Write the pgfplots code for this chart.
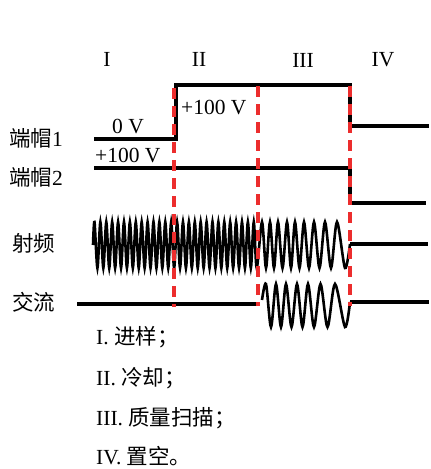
\documentclass[border=0pt]{standalone}
\usepackage{pgfplots}
\pgfplotsset{compat=1.18}
\usepackage{fontspec}
\setmainfont{Liberation Serif}
\newfontfamily\cjk{Noto Sans CJK SC}
\definecolor{dashred}{RGB}{236,45,45}
\newcommand\fs{\fontsize{21.5}{25}\selectfont}
\begin{document}
\begin{tikzpicture}
\begin{axis}[hide axis, scale only axis, width=429pt, height=469pt,
  xmin=0, xmax=429, ymin=0, ymax=469, y dir=reverse, clip=false]
\path (rel axis cs:0,0) rectangle (rel axis cs:1,1);
% end cap 1
\addplot[black, line width=3.1pt, line join=miter] coordinates {(94,139) (176,139) (176,85) (350,85) (350,126) (429,126)};
% end cap 2
\addplot[black, line width=3.1pt, line join=miter] coordinates {(94,168) (350,168) (350,203) (426,203)};
% RF
\addplot[black, line width=2.6pt, smooth, tension=0.5] coordinates {
(93,245)
(94.48,222) (97.43,268) (100.38,222) (103.33,268) (106.28,222) (109.23,268)
(112.18,222) (115.13,268) (118.08,222) (121.03,268) (123.98,222) (126.93,268)
(129.88,222) (132.83,268) (135.78,222) (138.73,268) (141.68,222) (144.63,268)
(147.58,222) (150.53,268) (153.48,222) (156.43,268) (159.38,222) (162.33,268)
(165.28,222) (168.23,268) (171.18,222) (174.13,268) (177.08,222) (180.03,268)
(182.98,222) (185.93,268) (188.88,222) (191.83,268) (194.78,222) (197.73,268)
(200.68,222) (203.63,268) (206.58,222) (209.53,268) (212.48,222) (215.43,268)
(218.38,222) (221.33,268) (224.28,222) (227.23,268) (230.18,222) (233.13,268)
(236.08,222) (239.03,268) (241.98,222) (244.93,268) (247.88,222) (250.83,268)
(253.78,222) (256.73,268)
(262,222) (266,268) (270,222) (274,268) (278,222) (282.5,268) (287,222) (291,268)
(295,222) (299.5,268) (304,222) (309,268) (314,222) (319.5,268) (325,222) (331,268)
(337,222) (345,268) (350,244)};
\addplot[black, line width=3.1pt] coordinates {(350,244) (428,244)};
% AC
\addplot[black, line width=3.1pt] coordinates {(77,304) (258,304)};
\addplot[black, line width=2.6pt, smooth, tension=0.5] coordinates {
(262,300) (266,284) (271,327) (276,284) (281,327) (286,284) (291.5,327)
(297,284) (302.5,327) (308,284) (314,327) (320.5,284) (327.5,327)
(335,284) (345,327) (350,302)};
\addplot[black, line width=3.1pt] coordinates {(350,302) (429,302)};
% red dashed separators
\addplot[dashred, line width=3.3pt, dash pattern=on 11pt off 7pt] coordinates {(174,88) (174,307)};
\addplot[dashred, line width=3.3pt, dash pattern=on 11pt off 7pt] coordinates {(258,86) (258,306)};
\addplot[dashred, line width=3.3pt, dash pattern=on 11pt off 7pt] coordinates {(350,86) (350,306)};
% phase labels
\node[font=\fs] at (axis cs:107,59) {I};
\node[font=\fs] at (axis cs:199,59) {II};
\node[font=\fs] at (axis cs:303,60) {III};
\node[font=\fs] at (axis cs:383,60) {IV};
% voltage labels
\node[font=\fs] at (axis cs:128,127) {0 V};
\node[font=\fs, anchor=west, inner sep=0pt] at (axis cs:181,108) {+100 V};
\node[font=\fs, anchor=west, inner sep=0pt] at (axis cs:95,156) {+100 V};
% row labels
\node[font=\fs, anchor=west, inner sep=0pt] at (axis cs:9,138) {{\cjk 端帽}1};
\node[font=\fs, anchor=west, inner sep=0pt] at (axis cs:9,177) {{\cjk 端帽}2};
\node[font=\fs, anchor=west, inner sep=0pt] at (axis cs:12,243) {\cjk 射频};
\node[font=\fs, anchor=west, inner sep=0pt] at (axis cs:12,302) {\cjk 交流};
% legend list
\node[font=\fs, anchor=west, inner sep=0pt] at (axis cs:96,337) {I. {\cjk 进样；}};
\node[font=\fs, anchor=west, inner sep=0pt] at (axis cs:96,378) {II. {\cjk 冷却；}};
\node[font=\fs, anchor=west, inner sep=0pt] at (axis cs:96,418) {III. {\cjk 质量扫描；}};
\node[font=\fs, anchor=west, inner sep=0pt] at (axis cs:96,456) {IV. {\cjk 置空。}};
\end{axis}
\end{tikzpicture}
\end{document}
